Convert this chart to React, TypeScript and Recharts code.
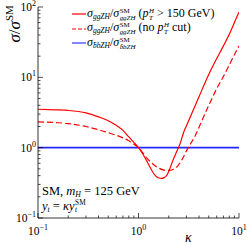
import React from 'react';
import { LineChart, Line, XAxis, YAxis } from 'recharts';

const kappaCut = [0.1, 0.15, 0.2, 0.3, 0.4, 0.5, 0.6, 0.7, 0.8, 0.9, 1, 1.1, 1.2, 1.3, 1.4, 1.5, 1.6, 1.7, 1.8, 1.9, 2.0, 2.2, 2.4, 2.6, 2.8, 3.0, 3.5, 4, 5, 6, 7, 8, 9, 10];
const ratioCut = [3.52, 3.45, 3.38, 3.12, 2.74, 2.42, 2.08, 1.76, 1.42, 1.19, 1, 0.82, 0.66, 0.53, 0.44, 0.39, 0.37, 0.365, 0.375, 0.4, 0.46, 0.66, 0.88, 1.15, 1.62, 2.05, 3.4, 5.3, 11, 18.5, 28, 41, 60, 85];

const kappaNoCut = [0.1, 0.15, 0.2, 0.3, 0.4, 0.5, 0.6, 0.7, 0.8, 0.9, 1, 1.2, 1.4, 1.6, 1.8, 2.0, 2.2, 2.4, 2.7, 3.0, 3.2, 3.6, 4, 5, 6, 7, 8, 9, 10];
const ratioNoCut = [2.33, 2.27, 2.2, 2.0, 1.8, 1.63, 1.5, 1.38, 1.25, 1.12, 1, 0.72, 0.58, 0.51, 0.48, 0.475, 0.49, 0.53, 0.67, 0.9, 1.06, 1.4, 1.95, 4.0, 6.9, 10.3, 15, 21, 28];

const kappaBB = [0.1, 10];
const ratioBB = [1, 1];

const xTicks = [0.1, 0.2, 0.3, 0.4, 0.5, 0.6, 0.7, 0.8, 0.9, 1, 2, 3, 4, 5, 6, 7, 8, 9, 10];
const yTicks = [0.1, 0.2, 0.3, 0.4, 0.5, 0.6, 0.7, 0.8, 0.9, 1, 2, 3, 4, 5, 6, 7, 8, 9, 10, 20, 30, 40, 50, 60, 70, 80, 90, 100];
const majorExp: Record<string, string> = { '0.1': '\u22121', '1': '0', '10': '1', '100': '2' };

const serif = '"Liberation Serif", "DejaVu Serif", serif';

const cutData = kappaCut.map((k, i) => ({ k, v: ratioCut[i] }));
const noCutData = kappaNoCut.map((k, i) => ({ k, v: ratioNoCut[i] }));
const bbData = kappaBB.map((k, i) => ({ k, v: ratioBB[i] }));

const isMajor = (v: number) => majorExp[String(v)] !== undefined;

const BottomTick = (p: any) => {
  const { x, y, payload } = p;
  const v = payload.value;
  const major = isMajor(v);
  return (
    <g>
      <line x1={x} x2={x} y1={y} y2={y - (major ? 5 : 2.5)} stroke="#000" strokeWidth={0.7} />
      {major && (
        <text x={x} y={y + 17} textAnchor="middle" fontSize={11.5} fontFamily={serif} fill="#000">
          10<tspan dy={-5} fontSize={8}>{majorExp[String(v)]}</tspan>
        </text>
      )}
    </g>
  );
};
const TopTick = (p: any) => {
  const { x, y, payload } = p;
  const major = isMajor(payload.value);
  return <line x1={x} x2={x} y1={y} y2={y + (major ? 5 : 2.5)} stroke="#000" strokeWidth={0.7} />;
};
const LeftTick = (p: any) => {
  const { x, y, payload } = p;
  const v = payload.value;
  const major = isMajor(v);
  return (
    <g>
      <line x1={x} x2={x + (major ? 5 : 2.5)} y1={y} y2={y} stroke="#000" strokeWidth={0.7} />
      {major && (
        <text x={x - 2} y={y + 4} textAnchor="end" fontSize={11.5} fontFamily={serif} fill="#000">
          10<tspan dy={-5} fontSize={8}>{majorExp[String(v)]}</tspan>
        </text>
      )}
    </g>
  );
};
const RightTick = (p: any) => {
  const { x, y, payload } = p;
  const major = isMajor(payload.value);
  return <line x1={x} x2={x - (major ? 5 : 2.5)} y1={y} y2={y} stroke="#000" strokeWidth={0.7} />;
};

const SupSub = ({ sup, sub }: { sup: React.ReactNode; sub: React.ReactNode }) => (
  <span style={{ display: 'inline-flex', flexDirection: 'column', verticalAlign: '0.6em', fontSize: '0.58em', lineHeight: 1, marginLeft: 0.5 }}>
    <span>{sup}</span>
    <span style={{ fontStyle: 'italic' }}>{sub}</span>
  </span>
);
const Sub = ({ children }: { children: React.ReactNode }) => (
  <span style={{ fontSize: '0.62em', fontStyle: 'italic', verticalAlign: '-0.3em', lineHeight: 0.8 }}>{children}</span>
);

const legendRows = [
  { color: '#ff0000', dash: undefined as string | undefined, proc: 'ggZH', extra: <> (<i>p</i><SupSub sup={<i>H</i>} sub="T" /> &gt; 150 GeV)</> },
  { color: '#ff0000', dash: '4 2', proc: 'ggZH', extra: <> (no <i>p</i><SupSub sup={<i>H</i>} sub="T" /> cut)</> },
  { color: '#0000ff', dash: undefined as string | undefined, proc: 'b\u0304bZH', extra: null as React.ReactNode },
];

const LegendBox = () => (
  <div style={{ position: 'absolute', left: 72, top: 7, width: 167, overflow: 'hidden', fontFamily: serif, fontSize: 12, color: '#000', whiteSpace: 'nowrap' }}>
    {legendRows.map((r, i) => (
      <div key={i} style={{ height: 14.5, display: 'flex', alignItems: 'center' }}>
        <svg width={14} height={4} style={{ marginRight: 1, flex: 'none' }}>
          <line x1={0} x2={14} y1={2} y2={2} stroke={r.color} strokeWidth={r.color === '#0000ff' ? 1.6 : 1.2} strokeDasharray={r.dash} strokeOpacity={r.color === '#0000ff' ? 0.6 : 1} />
        </svg>
        <span style={{ lineHeight: 1 }}>
          <i>σ</i><Sub>{r.proc}</Sub>/<i>σ</i><SupSub sup="SM" sub={r.proc} />{r.extra}
        </span>
      </div>
    ))}
  </div>
);

export default function App() {
  return (
    <div style={{ position: 'absolute', left: 0, top: 0, width: 249, height: 245, background: '#fff', overflow: 'hidden' }}>
      <LineChart width={249} height={245} margin={{ top: 7, right: 10, bottom: 0, left: 0 }}>
        <XAxis dataKey="k" type="number" scale="log" domain={[0.1, 10]} ticks={xTicks} allowDataOverflow
          height={27} tickSize={0} tickMargin={0} tickLine={false} tick={<BottomTick />} interval={0}
          axisLine={{ stroke: '#000', strokeWidth: 0.8 }} />
        <XAxis xAxisId="top" orientation="top" dataKey="k" type="number" scale="log" domain={[0.1, 10]} ticks={xTicks} allowDataOverflow
          height={0} tickSize={0} tickMargin={0} tickLine={false} tick={<TopTick />} interval={0}
          axisLine={{ stroke: '#000', strokeWidth: 0.8 }} />
        <YAxis type="number" scale="log" domain={[0.1, 100]} ticks={yTicks} allowDataOverflow
          width={38} tickSize={0} tickMargin={0} tickLine={false} tick={<LeftTick />} interval={0}
          axisLine={{ stroke: '#000', strokeWidth: 0.8 }} />
        <YAxis yAxisId="right" orientation="right" type="number" scale="log" domain={[0.1, 100]} ticks={yTicks} allowDataOverflow
          width={0} tickSize={0} tickMargin={0} tickLine={false} tick={<RightTick />} interval={0}
          axisLine={{ stroke: '#000', strokeWidth: 0.8 }} />
        <Line data={bbData} dataKey="v" stroke="#0000ff" strokeWidth={1.6} dot={false} isAnimationActive={false} strokeOpacity={0.85} />
        <Line data={noCutData} dataKey="v" type="monotone" stroke="#ff0000" strokeWidth={1.2} strokeDasharray="6 3" dot={false} isAnimationActive={false} />
        <Line data={cutData} dataKey="v" type="monotone" stroke="#ff0000" strokeWidth={1.2} dot={false} isAnimationActive={false} />
      </LineChart>
      <LegendBox />
      <div style={{ position: 'absolute', left: 4, top: 0, width: 20, height: 48, display: 'flex', alignItems: 'center', justifyContent: 'center' }}>
        <div style={{ transform: 'rotate(-90deg)', fontFamily: serif, fontSize: 17, whiteSpace: 'nowrap' }}>
          <i>σ</i>/<i>σ</i><sup style={{ fontSize: 11 }}>SM</sup>
        </div>
      </div>
      <div style={{ position: 'absolute', left: 185, top: 230, fontFamily: serif, fontSize: 14, fontStyle: 'italic' }}>κ</div>
      <div style={{ position: 'absolute', left: 42, top: 184, fontFamily: serif, fontSize: 12.5, lineHeight: '14px', whiteSpace: 'nowrap' }}>
        <div>SM, <i>m</i><Sub>H</Sub> = 125 GeV</div>
        <div><i>y</i><Sub>t</Sub> = <i>κy</i><SupSub sup="SM" sub="t" /></div>
      </div>
    </div>
  );
}
